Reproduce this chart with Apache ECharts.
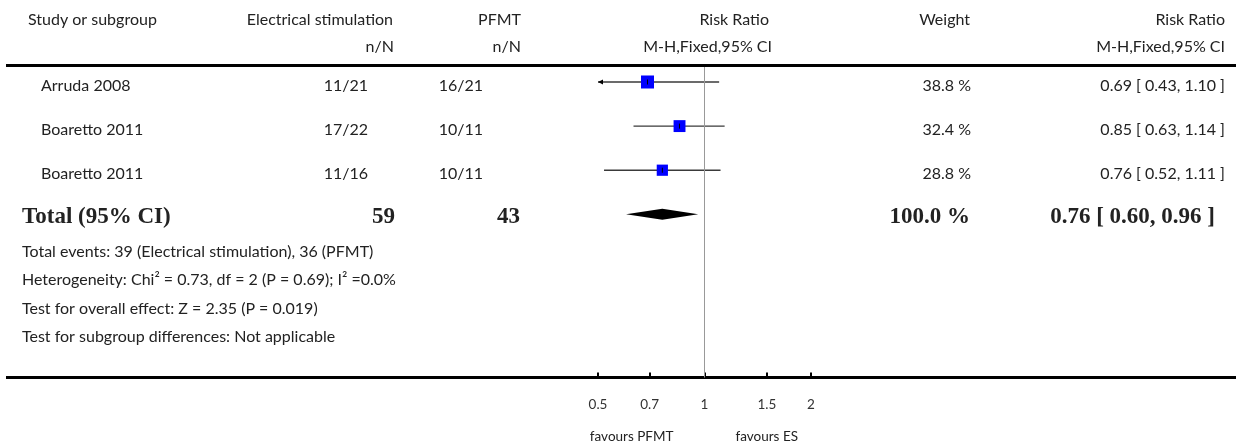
<!DOCTYPE html>
<html>
<head>
<meta charset="utf-8">
<script src="https://cdn.jsdelivr.net/npm/echarts@6/dist/echarts.min.js"></script>
<style>
  html, body { margin: 0; padding: 0; background: #fff; }
  #chart { width: 1236px; height: 446px; }
</style>
</head>
<body>
<div id="chart"></div>
<script>
// Forest plot: electrical stimulation vs PFMT, risk ratio (M-H, fixed, 95% CI)
const studies = ['Arruda 2008', 'Boaretto 2011', 'Boaretto 2011'];
const esEvents = [11, 17, 11];
const esTotals = [21, 22, 16];
const pfmtEvents = [16, 10, 10];
const pfmtTotals = [21, 11, 11];
const riskRatio = [0.69, 0.85, 0.76];
const ciLower = [0.43, 0.63, 0.52];
const ciUpper = [1.10, 1.14, 1.11];
const weights = [38.8, 32.4, 28.8];

const totalLabel = 'Total (95% CI)';
const totalEs = 59;
const totalPfmt = 43;
const totalWeight = 100.0;
const totalRR = 0.76;
const totalLower = 0.60;
const totalUpper = 0.96;

const footnotes = [
  'Total events: 39 (Electrical stimulation), 36 (PFMT)',
  'Heterogeneity: Chi² = 0.73, df = 2 (P = 0.69); I² =0.0%',
  'Test for overall effect: Z = 2.35 (P = 0.019)',
  'Test for subgroup differences: Not applicable'
];

const tickValues = [0.5, 0.7, 1, 1.5, 2];
const tickLabels = ['0.5', '0.7', '1', '1.5', '2'];
const favourLeft = 'favours PFMT';
const favourRight = 'favours ES';

const headerTop = ['Study or subgroup', 'Electrical stimulation', 'PFMT', 'Risk Ratio', 'Weight', 'Risk Ratio'];
const headerSub = ['n/N', 'n/N', 'M-H,Fixed,95% CI', 'M-H,Fixed,95% CI'];

const X_MIN = tickValues[0];
const X_MAX = tickValues[tickValues.length - 1];
const BOX_SCALE = 2.09;

const SANS = 'Lato, "Open Sans", sans-serif';
const SERIF = '"Liberation Serif", "DejaVu Serif", serif';
const TEXT = '#222';
const BODY_FONT = '16px ' + SANS;
const AXIS_FONT_SIZE = 13.5;

const studyRows = studies.map((s, i) => [riskRatio[i], i, ciLower[i], ciUpper[i], weights[i]]);
const totalRow = studies.length;

function renderStudy(params, api) {
  const est = api.value(0), row = api.value(1), lo = api.value(2), hi = api.value(3), w = api.value(4);
  const pEst = api.coord([est, row]);
  const pLo = api.coord([Math.max(lo, X_MIN), row]);
  const pHi = api.coord([Math.min(hi, X_MAX), row]);
  const y = pEst[1];
  const size = BOX_SCALE * Math.sqrt(w);
  const children = [
    { type: 'line', shape: { x1: pLo[0], y1: y, x2: pHi[0], y2: y }, style: { stroke: '#3a3a3a', lineWidth: 1.4 } },
    { type: 'rect', shape: { x: pEst[0] - size / 2, y: y - size / 2, width: size, height: size }, style: { fill: '#0000ff' } },
    { type: 'line', shape: { x1: pEst[0], y1: y - 2.5, x2: pEst[0], y2: y + 2.5 }, style: { stroke: '#000', lineWidth: 1 } }
  ];
  if (lo < X_MIN) {
    children.push({ type: 'polygon', shape: { points: [[pLo[0], y], [pLo[0] + 5, y - 2.6], [pLo[0] + 5, y + 2.6]] }, style: { fill: '#000' } });
  }
  if (hi > X_MAX) {
    children.push({ type: 'polygon', shape: { points: [[pHi[0], y], [pHi[0] - 5, y - 2.6], [pHi[0] - 5, y + 2.6]] }, style: { fill: '#000' } });
  }
  return { type: 'group', children };
}

function renderDiamond(params, api) {
  const est = api.value(0), row = api.value(1), lo = api.value(2), hi = api.value(3);
  const c = api.coord([est, row]);
  const l = api.coord([lo, row]);
  const r = api.coord([hi, row]);
  const h = 5.5;
  return {
    type: 'polygon',
    shape: { points: [[l[0], c[1]], [c[0], c[1] - h], [r[0], c[1]], [c[0], c[1] + h]] },
    style: { fill: '#000' }
  };
}

const chart = echarts.init(document.getElementById('chart'), null, { renderer: 'canvas' });

chart.setOption({
  animation: false,
  backgroundColor: '#fff',
  grid: { left: 598, width: 213, top: 67, bottom: 68.5, containLabel: false },
  xAxis: {
    type: 'log',
    logBase: 10,
    position: 'bottom',
    min: X_MIN,
    max: X_MAX,
    splitLine: { show: false },
    axisLine: { show: true, onZero: false, lineStyle: { color: '#000', width: 3 } },
    axisTick: { show: true, inside: true, length: 5, customValues: tickValues, lineStyle: { color: '#000', width: 2 } },
    axisLabel: {
      customValues: tickValues,
      margin: 20,
      fontFamily: SANS,
      fontSize: AXIS_FONT_SIZE,
      color: '#333',
      formatter: v => {
        const k = tickValues.findIndex(t => Math.abs(t - v) < 1e-6);
        return k >= 0 ? tickLabels[k] : '';
      }
    }
  },
  yAxis: {
    type: 'value',
    inverse: true,
    min: -0.34,
    max: 6.7,
    show: false
  },
  series: [
    {
      type: 'custom',
      renderItem: renderStudy,
      data: studyRows,
      clip: false,
      silent: true
    },
    {
      type: 'custom',
      renderItem: renderDiamond,
      data: [[totalRR, totalRow, totalLower, totalUpper]],
      silent: true,
      markLine: {
        silent: true,
        symbol: 'none',
        label: { show: false },
        lineStyle: { color: '#999', width: 1, type: 'solid' },
        data: [{ xAxis: 1 }]
      }
    }
  ]
});

// Table text laid out on the same row scale as the plot
const rowY = i => chart.convertToPixel({ yAxisIndex: 0 }, i);
const xAt = v => chart.convertToPixel({ xAxisIndex: 0 }, v);

function txt(s, x, y, align, font) {
  return {
    type: 'text', x, y, silent: true,
    style: { text: s, fill: TEXT, font: font || BODY_FONT, textAlign: align, textVerticalAlign: 'middle' }
  };
}

const g = [];
// horizontal rules above the rows and along the axis
g.push({ type: 'line', silent: true, shape: { x1: 6, y1: 65.5, x2: 1236, y2: 65.5 }, style: { stroke: '#000', lineWidth: 3 } });
g.push({ type: 'line', silent: true, shape: { x1: 6, y1: 377.5, x2: 1236, y2: 377.5 }, style: { stroke: '#000', lineWidth: 3 } });

// headers
const h1 = 20, h2 = 47;
g.push(txt(headerTop[0], 28, h1, 'left'));
g.push(txt(headerTop[1], 393, h1, 'right'));
g.push(txt(headerTop[2], 521, h1, 'right'));
g.push(txt(headerTop[3], 769, h1, 'right'));
g.push(txt(headerTop[4], 970, h1, 'right'));
g.push(txt(headerTop[5], 1225, h1, 'right'));
g.push(txt(headerSub[0], 394, h2, 'right'));
g.push(txt(headerSub[1], 521, h2, 'right'));
g.push(txt(headerSub[2], 772, h2, 'right'));
g.push(txt(headerSub[3], 1225, h2, 'right'));

// study rows
studies.forEach((s, i) => {
  const y = rowY(i) + 4;
  g.push(txt(s, 41, y, 'left'));
  g.push(txt(esEvents[i] + '/' + esTotals[i], 368, y, 'right'));
  g.push(txt(pfmtEvents[i] + '/' + pfmtTotals[i], 483, y, 'right'));
  g.push(txt(weights[i].toFixed(1) + ' %', 971, y, 'right'));
  g.push(txt(riskRatio[i].toFixed(2) + ' [ ' + ciLower[i].toFixed(2) + ', ' + ciUpper[i].toFixed(2) + ' ]', 1225, y, 'right'));
});

// total row
const bold = 'bold 23px ' + SERIF;
const ty = rowY(totalRow) + 3;
g.push(txt(totalLabel, 22, ty, 'left', bold));
g.push(txt(String(totalEs), 395, ty, 'right', bold));
g.push(txt(String(totalPfmt), 520, ty, 'right', bold));
g.push(txt(totalWeight.toFixed(1) + ' %', 970, ty, 'right', bold));
g.push(txt(totalRR.toFixed(2) + ' [ ' + totalLower.toFixed(2) + ', ' + totalUpper.toFixed(2) + ' ]', 1215, ty, 'right', bold));

// footnotes
const footY = [252, 280, 308.5, 337];
footnotes.forEach((s, i) => g.push(txt(s, 22, footY[i], 'left')));

// favour labels either side of the null line
const x1 = xAt(1);
g.push(txt(favourLeft, x1 - 31, 437, 'right', AXIS_FONT_SIZE + 'px ' + SANS));
g.push(txt(favourRight, x1 + 31, 437, 'left', AXIS_FONT_SIZE + 'px ' + SANS));

chart.setOption({ graphic: g });
</script>
</body>
</html>
